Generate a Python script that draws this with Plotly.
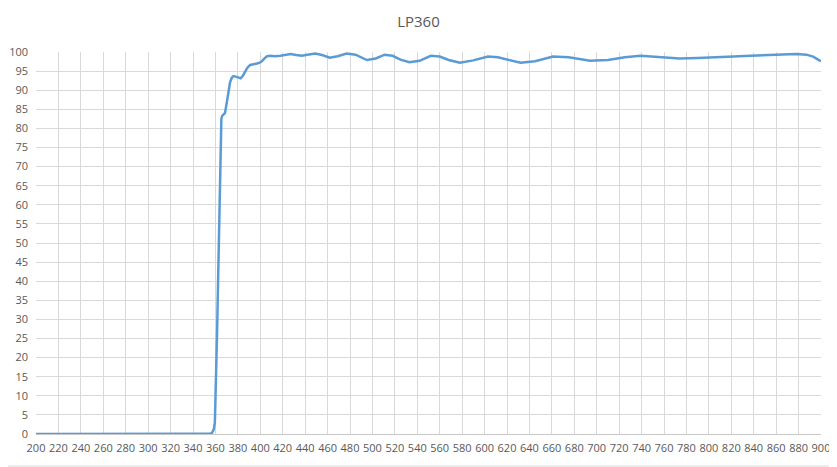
import plotly.graph_objects as go

# transmission curve of the LP360 long-pass filter
wavelength = [200, 300, 350, 355, 357, 358.5, 359.5, 360.5, 361.5, 362.5, 363.5, 364.5,
              365.3, 366, 368.5, 370, 371.5, 373, 374.5, 376, 379, 382.5, 384.5,
              386.5, 388.5, 391, 394, 397, 399.5, 401.5, 404, 406, 409, 413, 418,
              422, 427, 432, 437, 442, 449, 455, 462, 469, 477, 485, 495, 503, 511,
              518, 525, 533, 542, 552, 560, 568, 578, 590, 603, 612, 622, 632, 645,
              661, 675, 694, 710, 725, 739, 755, 774, 790, 807, 822, 837, 850, 865,
              878, 887, 893, 898.5, 900]
transmission = [0, 0, 0, 0.05, 0.3, 1.2, 3, 12, 27, 42, 57, 72,
                82.5, 83.3, 84, 86.5, 89.5, 92, 93.2, 93.7, 93.5, 93.1, 93.8,
                94.9, 95.9, 96.6, 96.9, 97, 97.2, 97.6, 98.4, 98.9, 99.0, 98.9, 99.0,
                99.3, 99.5, 99.2, 99.0, 99.3, 99.6, 99.2, 98.5, 98.9, 99.6, 99.3, 97.9, 98.3, 99.3,
                99.0, 98.0, 97.3, 97.7, 99.0, 98.8, 97.9, 97.2, 97.8, 98.8, 98.6, 97.8, 97.2, 97.6,
                98.8, 98.6, 97.7, 97.9, 98.6, 99.0, 98.7, 98.3, 98.4, 98.7, 98.8, 99.0, 99.1, 99.3,
                99.5, 99.3, 98.8, 97.8, 97.6]

fig = go.Figure()
fig.add_trace(go.Scatter(x=wavelength, y=transmission, mode='lines',
                         line=dict(color='#5B9BD5', width=2.5),
                         showlegend=False))

# the page body has an 8px margin, so the margins are shifted by that much
fig.update_layout(
    width=837, height=467,
    margin=dict(l=28, r=24, t=44, b=41),
    paper_bgcolor='white', plot_bgcolor='white',
    font=dict(family='Open Sans', size=11, color='#595959'),
    title=dict(text='LP360', xref='container', yref='container',
               x=0.4904, xanchor='center', y=0.970, yanchor='middle',
               font=dict(size=15, color='#595959')),
    xaxis=dict(range=[200, 900], dtick=20, tick0=200, showgrid=True,
               gridcolor='#D9D9D9', gridwidth=1, showline=True, linecolor='#C8C8C8',
               zeroline=False, ticks='', ticklabelstandoff=4, automargin=False),
    yaxis=dict(range=[0, 100], dtick=5, showgrid=True, gridcolor='#D9D9D9',
               gridwidth=1, zeroline=False, showline=False, ticks='',
               ticklabelstandoff=7, automargin=False),
    shapes=[dict(type='rect', xref='paper', yref='paper',
                 x0=-0.0446, x1=1.0191, y0=-0.0838, y1=1.1335,
                 line=dict(color='#D9D9D9', width=1), layer='below')]
)

fig.write_html("out.html")
